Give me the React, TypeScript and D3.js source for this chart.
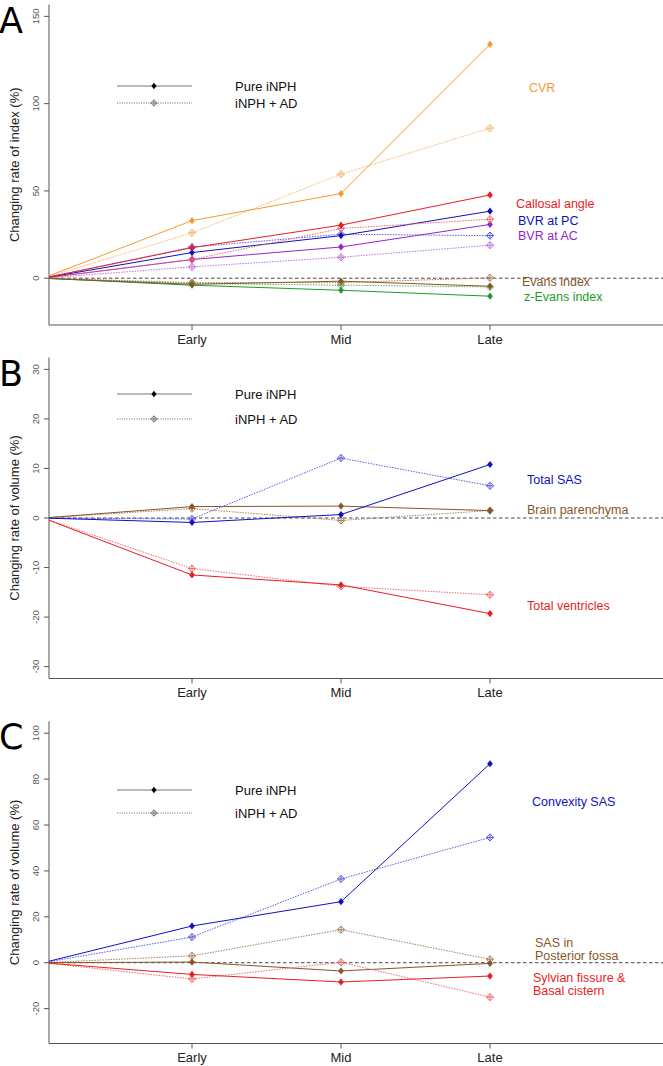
import React from 'react';
import * as d3 from 'd3';

const stages = ['Early', 'Mid', 'Late'];

// Panel A – changing rate of index (%)
const cvrPure = [0, 33.0, 48.5, 134.0];
const cvrAD = [0, 26.0, 59.6, 86.0];
const callosalPure = [0, 17.5, 30.4, 47.7];
const callosalAD = [0, 10.7, 28.5, 33.8];
const bvrPcPure = [0, 14.7, 24.4, 38.4];
const bvrPcAD = [0, 17.8, 25.2, 24.4];
const bvrAcPure = [0, 10.7, 17.9, 30.8];
const bvrAcAD = [0, 6.5, 12.0, 18.9];
const evansPure = [0, -3.5, -1.7, -4.6];
const evansAD = [0, -2.5, -2.5, 0.2];
const zEvansPure = [0, -4.0, -6.9, -10.3];
const zEvansAD = [0, -3.0, -4.0, -5.0];
const ticksA = [0, 50, 100, 150];

// Panel B – changing rate of volume (%)
const totalSasPure = [0, -0.9, 0.7, 10.8];
const totalSasAD = [0, -0.2, 12.1, 6.5];
const parenchymaPure = [0, 2.3, 2.4, 1.5];
const parenchymaAD = [0, 1.9, -0.5, 1.5];
const ventriclesPure = [0, -11.5, -13.5, -19.3];
const ventriclesAD = [0, -10.2, -13.8, -15.5];
const ticksB = [-30, -20, -10, 0, 10, 20, 30];

// Panel C – changing rate of volume (%)
const convexityPure = [0, 16.0, 26.6, 86.7];
const convexityAD = [0, 11.2, 36.5, 54.6];
const posteriorPure = [0, 0.3, -3.6, -0.3];
const posteriorAD = [0, 3.0, 14.4, 1.5];
const sylvianPure = [0, -5.1, -8.4, -5.8];
const sylvianAD = [0, -7.1, 0.2, -15.0];
const ticksC = [-20, 0, 20, 40, 60, 80, 100];

const legendLabels = ['Pure iNPH', 'iNPH + AD'];

const C = {
  orange: ['#F39A30', '#F6B56E'],
  red: ['#EC1C24', '#F06A6A'],
  blue: ['#1010C0', '#5C5CE0'],
  purple: ['#9326CC', '#BC72E2'],
  brown: ['#8A5526', '#A8805C'],
  green: ['#1E9A2A', '#5CB060'],
};

type Series = { color: string[]; pure: number[]; ad: number[] };
type Label = { lines: string[]; y: number; dx: number; color: string };

const panels = [
  {
    letter: 'A', top: 4.5, bottom: 325, ylim: [-20, 150], ticks: ticksA,
    title: 'Changing rate of index (%)', legendY: [86, 103], axisLabelY: 344,
    series: [
      { color: C.orange, pure: cvrPure, ad: cvrAD },
      { color: C.green, pure: zEvansPure, ad: zEvansAD },
      { color: C.brown, pure: evansPure, ad: evansAD },
      { color: C.purple, pure: bvrAcPure, ad: bvrAcAD },
      { color: C.blue, pure: bvrPcPure, ad: bvrPcAD },
      { color: C.red, pure: callosalPure, ad: callosalAD },
    ] as Series[],
    labels: [
      { lines: ['CVR'], y: 109, dx: 39, color: C.orange[0] },
      { lines: ['Callosal angle'], y: 42.6, dx: 26, color: C.red[0] },
      { lines: ['BVR at PC'], y: 33.0, dx: 28, color: C.blue[0] },
      { lines: ['BVR at AC'], y: 24.4, dx: 28, color: C.purple[0] },
      { lines: ['Evans index'], y: -2.0, dx: 32, color: C.brown[0] },
      { lines: ['z-Evans index'], y: -10.4, dx: 34, color: C.green[0] },
    ] as Label[],
  },
  {
    letter: 'B', top: 357.5, bottom: 678.5, ylim: [-30, 30], ticks: ticksB,
    title: 'Changing rate of volume (%)', legendY: [394, 419], axisLabelY: 697,
    series: [
      { color: C.brown, pure: parenchymaPure, ad: parenchymaAD },
      { color: C.red, pure: ventriclesPure, ad: ventriclesAD },
      { color: C.blue, pure: totalSasPure, ad: totalSasAD },
    ] as Series[],
    labels: [
      { lines: ['Total SAS'], y: 7.7, dx: 37, color: C.blue[0] },
      { lines: ['Brain parenchyma'], y: 1.6, dx: 37, color: C.brown[0] },
      { lines: ['Total ventricles'], y: -17.8, dx: 37, color: C.red[0] },
    ] as Label[],
  },
  {
    letter: 'C', top: 721.3, bottom: 1043.5, ylim: [-30, 100], ticks: ticksC,
    title: 'Changing rate of volume (%)', legendY: [790, 813], axisLabelY: 1062,
    series: [
      { color: C.brown, pure: posteriorPure, ad: posteriorAD },
      { color: C.red, pure: sylvianPure, ad: sylvianAD },
      { color: C.blue, pure: convexityPure, ad: convexityAD },
    ] as Series[],
    labels: [
      { lines: ['Convexity SAS'], y: 70.2, dx: 42, color: C.blue[0] },
      { lines: ['SAS in', 'Posterior fossa'], y: 8.9, dx: 45, color: C.brown[0] },
      { lines: ['Sylvian fissure &', 'Basal cistern'], y: -6.4, dx: 43, color: C.red[0] },
    ] as Label[],
  },
];

const W = 663;
const H = 1066;
const AXIS_X = 49;
const FONT = "'Liberation Sans', Arial, sans-serif";
const LABEL_SIZE = 12.5;
const LINE_GAP = 13.2;

const x = d3.scaleLinear().domain([1, 3]).range([192, 490]);

function Filled({ cx, cy, fill, r = 3.6 }: { cx: number; cy: number; fill: string; r?: number }) {
  return <path d={`M${cx},${cy - r}L${cx + r * 0.8},${cy}L${cx},${cy + r}L${cx - r * 0.8},${cy}Z`} fill={fill} />;
}

function Crossed({ cx, cy, stroke, r = 3.6 }: { cx: number; cy: number; stroke: string; r?: number }) {
  return (
    <g stroke={stroke} strokeWidth={1} fill="none">
      <path d={`M${cx},${cy - r}L${cx + r},${cy}L${cx},${cy + r}L${cx - r},${cy}Z`} />
      <path d={`M${cx - r},${cy}L${cx + r},${cy}M${cx},${cy - r}L${cx},${cy + r}`} />
    </g>
  );
}

function Panel({ p, idx }: { p: (typeof panels)[number]; idx: number }) {
  const ext = (p.ylim[1] - p.ylim[0]) * 0.04;
  const y = d3.scaleLinear().domain([p.ylim[0] - ext, p.ylim[1] + ext]).range([p.bottom, p.top]);
  const line = d3.line<number>().x((_, i) => x(i)).y((d) => y(d));
  const clipId = `clip${idx}`;
  const midY = (p.top + p.bottom) / 2;
  return (
    <g>
      <defs>
        <clipPath id={clipId}>
          <rect x={AXIS_X} y={p.top} width={W - AXIS_X} height={p.bottom - p.top} />
        </clipPath>
      </defs>
      <text x={-1} y={p.top + 28} fontFamily="'DejaVu Sans', sans-serif" fontWeight={400} fontSize={35} fill="#000">
        {p.letter}
      </text>
      {/* y axis */}
      <line x1={AXIS_X} x2={AXIS_X} y1={p.top} y2={p.bottom} stroke="#555" />
      {p.ticks.map((t) => (
        <g key={t}>
          <line x1={AXIS_X - 5} x2={AXIS_X} y1={y(t)} y2={y(t)} stroke="#555" />
          <text
            transform={`translate(${AXIS_X - 10},${y(t)}) rotate(-90)`}
            textAnchor="middle"
            fontFamily={FONT}
            fontSize={9.5}
            fill="#555"
          >
            {t}
          </text>
        </g>
      ))}
      <text
        transform={`translate(19,${midY}) rotate(-90)`}
        textAnchor="middle"
        fontFamily={FONT}
        fontSize={13}
        fill="#222"
      >
        {p.title}
      </text>
      {/* x axis */}
      <line x1={AXIS_X} x2={W} y1={p.bottom} y2={p.bottom} stroke="#555" />
      {stages.map((s, i) => (
        <g key={s}>
          <line x1={x(i + 1)} x2={x(i + 1)} y1={p.bottom} y2={p.bottom + 5} stroke="#555" />
          <text x={x(i + 1)} y={p.axisLabelY} textAnchor="middle" fontFamily={FONT} fontSize={13} fill="#222">
            {s}
          </text>
        </g>
      ))}
      {/* zero line */}
      <line x1={AXIS_X} x2={W} y1={y(0)} y2={y(0)} stroke="#444" strokeDasharray="3.5,2.5" />
      {/* legend */}
      <line x1={117} x2={192} y1={p.legendY[0]} y2={p.legendY[0]} stroke="#777" strokeWidth={1.2} />
      <Filled cx={154} cy={p.legendY[0]} fill="#000" r={3.2} />
      <line x1={117} x2={192} y1={p.legendY[1]} y2={p.legendY[1]} stroke="#777" strokeDasharray="1.2,1.2" />
      <Crossed cx={154} cy={p.legendY[1]} stroke="#777" r={3.2} />
      {legendLabels.map((l, i) => (
        <text key={l} x={235} y={p.legendY[i] + 4.5} fontFamily={FONT} fontSize={13} fill="#111">
          {l}
        </text>
      ))}
      {/* series */}
      <g clipPath={`url(#${clipId})`}>
        {p.series.map((s, i) => (
          <g key={i}>
            <path d={line(s.ad) || ''} fill="none" stroke={s.color[1]} strokeWidth={1} strokeDasharray="1.5,1.2" />
            <path d={line(s.pure) || ''} fill="none" stroke={s.color[0]} strokeWidth={1} />
          </g>
        ))}
      </g>
      {p.series.map((s, i) => (
        <g key={i}>
          {s.ad.slice(1).map((v, j) => (
            <Crossed key={'a' + j} cx={x(j + 1)} cy={y(v)} stroke={s.color[1]} />
          ))}
          {s.pure.slice(1).map((v, j) => (
            <Filled key={'p' + j} cx={x(j + 1)} cy={y(v)} fill={s.color[0]} />
          ))}
        </g>
      ))}
      {/* labels */}
      {p.labels.map((l, i) => {
        const offset = ((l.lines.length - 1) * LINE_GAP) / 2;
        return (
          <text key={i} fontFamily={FONT} fontSize={LABEL_SIZE} fill={l.color}>
            {l.lines.map((ln, k) => (
              <tspan key={k} x={x(3) + l.dx} y={y(l.y) + 4.3 - offset + k * LINE_GAP + offset}>
                {ln}
              </tspan>
            ))}
          </text>
        );
      })}
    </g>
  );
}

export default function App() {
  return (
    <svg
      width={W}
      height={H}
      viewBox={`0 0 ${W} ${H}`}
      style={{ position: 'absolute', left: 0, top: 0, background: '#fff' }}
    >
      <rect width={W} height={H} fill="#fff" />
      {panels.map((p, i) => (
        <Panel key={p.letter} p={p} idx={i} />
      ))}
    </svg>
  );
}
